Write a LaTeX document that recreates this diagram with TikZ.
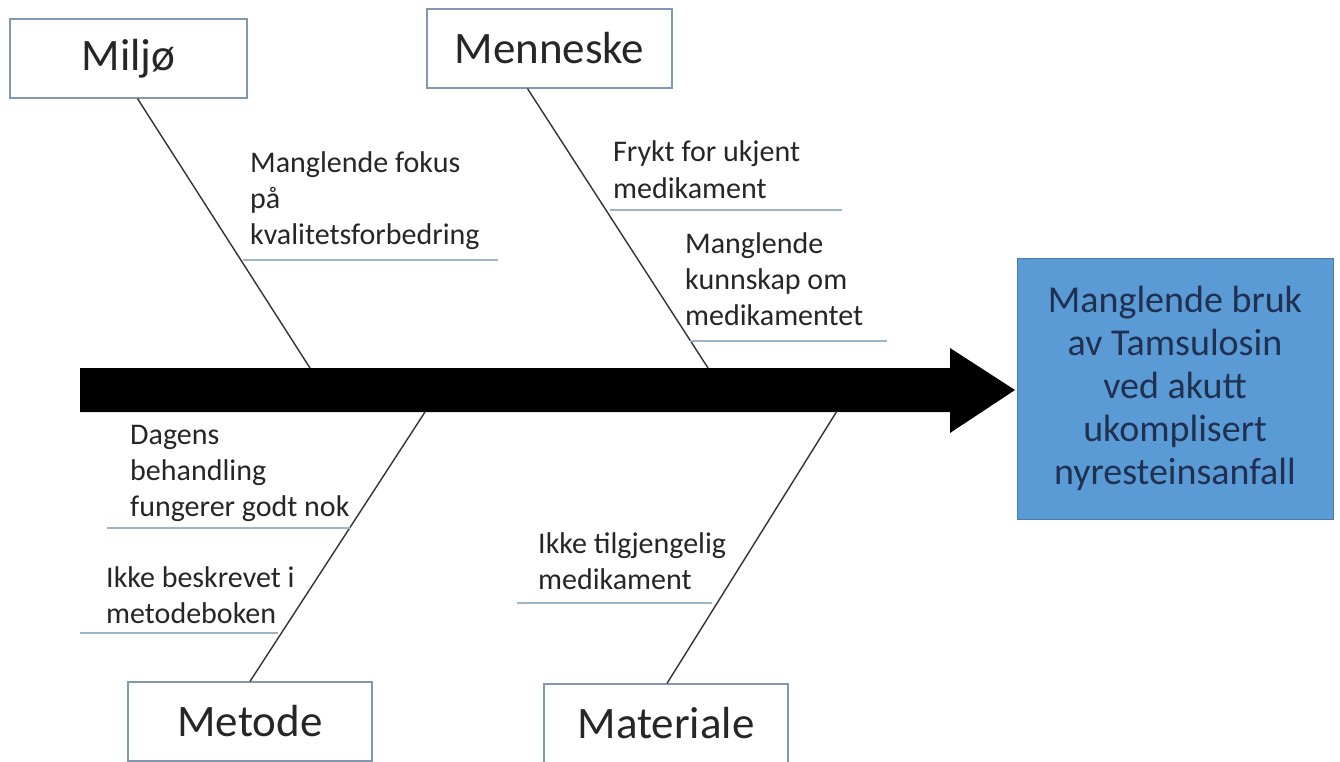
\documentclass[tikz,border=0pt]{standalone}
\usepackage{fontspec}
\setmainfont{Carlito}
\definecolor{boxline}{HTML}{8497B0}
\definecolor{subline}{HTML}{9DB3C8}
\definecolor{effectfill}{HTML}{5B9BD5}
\definecolor{effecttext}{HTML}{1F3050}
\definecolor{labeltext}{HTML}{262626}
\begin{document}
\begin{tikzpicture}[x=1pt,y=-1pt,
  catbox/.style={draw=boxline,line width=1.2pt,fill=white,minimum width=#1,minimum height=79pt,inner sep=0pt,font=\fontsize{45}{50}\selectfont,text=black!85},
  bone/.style={draw=black!80,line width=1.4pt},
  subcause/.style={anchor=base west,inner sep=0pt,align=left,text=labeltext,font=\fontsize{30}{36}\selectfont},
  subline/.style={draw=subline,line width=1.5pt}]
\useasboundingbox (0,0) rectangle (1340,762);
\fill[white] (0,0) rectangle (1340,762);
% spine arrow
\fill[black] (80,368) -- (950,368) -- (950,348) -- (1015,390) -- (950,433) -- (950,412) -- (80,412) -- cycle;
\coordinate (jm) at (310,368);
\coordinate (jn) at (708,368);
\coordinate (jt) at (425,412);
\coordinate (ja) at (837,411);
% category boxes
\node[catbox=237pt] (milj) at (128.5,58.5) {Miljø};
\node[catbox=245pt] (menn) at (549.5,48.5) {Menneske};
\node[catbox=244pt] (meto) at (250,721.5) {Metode};
\node[catbox=244pt] (mate) at (666,723.5) {Materiale};
% effect box
\node[draw=effectfill!80!black,line width=1pt,fill=effectfill,minimum width=316pt,minimum height=261pt,inner sep=0pt,align=center,text=effecttext,font=\fontsize{38}{43}\selectfont] (eff) at (1175,388.5) {Manglende bruk\\av Tamsulosin\\ved akutt\\ukomplisert\\nyresteinsanfall};
% bones
\draw[bone] ([xshift=9pt]milj.south) -- (jm);
\draw[bone] ([xshift=-22pt]menn.south) -- (jn);
\draw[bone] (meto.north) -- (jt);
\draw[bone] ([xshift=1pt]mate.north) -- (ja);
% sub-causes (anchor = baseline of last line)
\node[subcause] (s1) at (250,244) {Manglende fokus\\på\\kvalitetsforbedring};
\draw[subline] (243,260) -- (498,260);
\node[subcause] (s2) at (613,198) {Frykt for ukjent\\medikament};
\draw[subline] (610,210) -- (842,210);
\node[subcause] (s3) at (685,325) {Manglende\\kunnskap om\\medikamentet};
\draw[subline] (690,341) -- (887,341);
\node[subcause] (s4) at (130,516) {Dagens\\behandling\\fungerer godt nok};
\draw[subline] (107,528) -- (350,528);
\node[subcause] (s5) at (106,623) {Ikke beskrevet i\\metodeboken};
\draw[subline] (80,633) -- (278,633);
\node[subcause] (s6) at (538,589) {Ikke tilgjengelig\\medikament};
\draw[subline] (517,603) -- (712,603);
\end{tikzpicture}
\end{document}
